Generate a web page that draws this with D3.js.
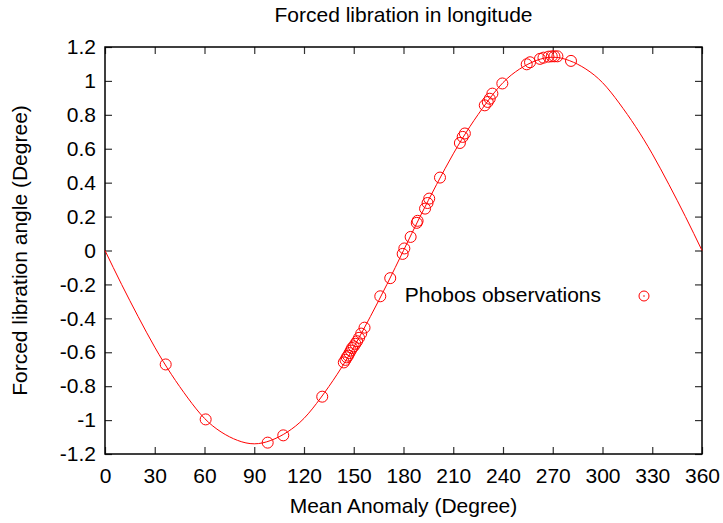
<!DOCTYPE html>
<html>
<head>
<meta charset="utf-8">
<script src="https://cdn.jsdelivr.net/npm/d3@7"></script>
<style>
  body { margin: 0; background: #fff; }
  text { font-family: "Liberation Sans", Arial, sans-serif; fill: #000; }
</style>
</head>
<body>
<div id="chart"></div>
<script>
// chart size
var width = 723;
var height = 523;
var margin = { top: 47, right: 21, bottom: 69, left: 105 };
var fontSize = "21px";

// model curve, read every 10 degrees
var curveAnomaly = [0, 10, 20, 30, 40, 50, 60, 70, 80, 90, 100, 110, 120, 130, 140, 150, 160, 170, 180,
  190, 200, 210, 220, 230, 240, 250, 260, 270, 280, 290, 300, 310, 320, 330, 340, 350, 360];
var curveAngle = [0, -0.20, -0.39, -0.57, -0.73, -0.87, -0.99, -1.07, -1.12, -1.14, -1.12, -1.07, -0.99, -0.87, -0.73, -0.57, -0.39, -0.20, 0,
  0.20, 0.39, 0.57, 0.73, 0.87, 0.99, 1.07, 1.12, 1.14, 1.12, 1.07, 0.99, 0.87, 0.73, 0.57, 0.39, 0.20, 0];

// Phobos observations
var obsAnomaly = [36.6, 60.7, 98.1, 107.5, 131,
  144, 145, 145.8, 146.6, 147.4, 148.2, 149, 150, 151, 152, 153.2, 154.5, 156.5,
  166, 172, 179.5, 180.5, 184.3, 188, 188.5, 193, 194.5, 195.5, 202,
  214, 215.7, 217, 229, 230.8, 232, 233.6, 239.6,
  254.3, 256.3, 262.3, 264.4, 267.4, 269.4, 271, 272.8, 281];
var obsAngle = [-0.672, -0.996, -1.133, -1.09, -0.862,
  -0.66, -0.645, -0.63, -0.62, -0.605, -0.59, -0.575, -0.565, -0.55, -0.535, -0.515, -0.49, -0.455,
  -0.27, -0.163, -0.02, 0.012, 0.08, 0.163, 0.175, 0.247, 0.28, 0.306, 0.43,
  0.634, 0.67, 0.69, 0.856, 0.876, 0.895, 0.925, 0.985,
  1.098, 1.11, 1.13, 1.137, 1.143, 1.145, 1.145, 1.145, 1.118];

var xTicks = [0, 30, 60, 90, 120, 150, 180, 210, 240, 270, 300, 330, 360];
var yTicks = [-1.2, -1, -0.8, -0.6, -0.4, -0.2, 0, 0.2, 0.4, 0.6, 0.8, 1, 1.2];

var svg = d3
  .select("#chart")
  .append("svg")
  .attr("width", width)
  .attr("height", height);

var x = d3.scaleLinear().domain([0, 360]).range([margin.left, width - margin.right]);
var y = d3.scaleLinear().domain([-1.2, 1.2]).range([height - margin.bottom, margin.top]);

var tickLen = 7;

// axes, ticks inside and mirrored
svg.append("g")
  .attr("transform", "translate(0," + y(-1.2) + ")")
  .call(d3.axisBottom(x).tickValues(xTicks).tickSize(-tickLen).tickPadding(14).tickFormat(d3.format("d")))
  .call(function (g) { g.select(".domain").remove(); })
  .call(function (g) { g.selectAll("text").style("font-size", fontSize).attr("fill", "#000"); });

svg.append("g")
  .attr("transform", "translate(0," + y(1.2) + ")")
  .call(d3.axisTop(x).tickValues(xTicks).tickSize(-tickLen).tickFormat(""))
  .call(function (g) { g.select(".domain").remove(); });

svg.append("g")
  .attr("transform", "translate(" + x(0) + ",0)")
  .call(d3.axisLeft(y).tickValues(yTicks).tickSize(-tickLen).tickPadding(9).tickFormat(function (d) { return String(+d.toFixed(1)); }))
  .call(function (g) { g.select(".domain").remove(); })
  .call(function (g) { g.selectAll("text").style("font-size", fontSize).attr("fill", "#000"); });

svg.append("g")
  .attr("transform", "translate(" + x(360) + ",0)")
  .call(d3.axisRight(y).tickValues(yTicks).tickSize(-tickLen).tickFormat(""))
  .call(function (g) { g.select(".domain").remove(); });

svg.selectAll(".tick line").attr("stroke", "#333").attr("stroke-width", 1.2);

// border
svg.append("rect")
  .attr("x", x(0))
  .attr("y", y(1.2))
  .attr("width", x(360) - x(0))
  .attr("height", y(-1.2) - y(1.2))
  .attr("fill", "none")
  .attr("stroke", "#000")
  .attr("stroke-width", 1.5);

// model curve
var curveData = curveAnomaly.map(function (d, i) { return [d, curveAngle[i]]; });
var line = d3.line()
  .x(function (d) { return x(d[0]); })
  .y(function (d) { return y(d[1]); })
  .curve(d3.curveNatural);

svg.append("path")
  .datum(curveData)
  .attr("d", line)
  .attr("fill", "none")
  .attr("stroke", "#ff0000")
  .attr("stroke-width", 1);

// observations
svg.selectAll("circle.obs")
  .data(obsAnomaly)
  .enter()
  .append("circle")
  .attr("class", "obs")
  .attr("cx", function (d) { return x(d); })
  .attr("cy", function (d, i) { return y(obsAngle[i]); })
  .attr("r", 5.5)
  .attr("fill", "none")
  .attr("stroke", "#ff0000")
  .attr("stroke-width", 1);

// legend
svg.append("text")
  .attr("x", 601)
  .attr("y", 302)
  .attr("text-anchor", "end")
  .style("font-size", fontSize)
  .text("Phobos observations");

svg.append("circle")
  .attr("cx", 644)
  .attr("cy", 296)
  .attr("r", 5)
  .attr("fill", "none")
  .attr("stroke", "#ff0000");
svg.append("circle")
  .attr("cx", 644)
  .attr("cy", 296)
  .attr("r", 0.8)
  .attr("fill", "#ff0000");

// titles
svg.append("text")
  .attr("x", (x(0) + x(360)) / 2)
  .attr("y", 22)
  .attr("text-anchor", "middle")
  .style("font-size", fontSize)
  .text("Forced libration in longitude");

svg.append("text")
  .attr("x", (x(0) + x(360)) / 2)
  .attr("y", 513)
  .attr("text-anchor", "middle")
  .style("font-size", fontSize)
  .text("Mean Anomaly (Degree)");

svg.append("text")
  .attr("transform", "translate(27," + y(0) + ") rotate(-90)")
  .attr("text-anchor", "middle")
  .style("font-size", fontSize)
  .text("Forced libration angle (Degree)");
</script>
</body>
</html>
